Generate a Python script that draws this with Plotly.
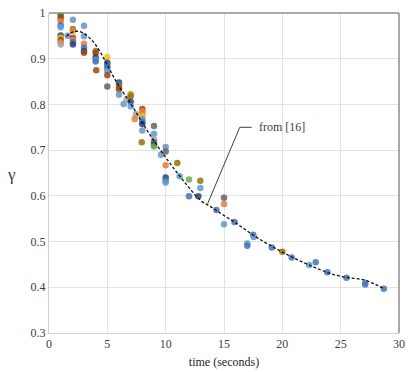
import plotly.graph_objects as go

# --- data -------------------------------------------------------------------
palette = {
    "B": "#4472C4", "O": "#ED7D31", "G": "#A5A5A5", "Y": "#FFC000",
    "L": "#5B9BD5", "N": "#264478", "R": "#9E480E", "D": "#636363",
    "V": "#997300", "GR": "#70AD47", "GD": "#43682B", "P": "#698ED0",
    "YV": "#BF9000",
}

pt_x = [1.0, 1.0, 1.0, 1.0, 1.0, 1.0, 1.0, 1.0, 1.0, 1.0, 1.0,
        1.6,
        2.05, 2.05, 2.05, 2.05, 2.05, 2.05, 2.05,
        3.0, 3.0, 3.0, 3.0, 3.0, 3.0,
        4.0, 4.0, 4.0, 4.0, 4.0, 4.05,
        5.0, 5.0, 5.0, 5.0, 5.0, 5.0, 5.0,
        6.0, 6.0, 6.0, 6.0, 6.0,
        6.4, 6.65,
        7.0, 7.0, 7.0, 7.0,
        7.45, 7.35,
        8.0, 8.0, 8.0, 8.0, 8.0, 8.0, 8.0, 8.0, 7.95,
        9.0, 9.0, 9.0, 9.0, 9.0, 9.0,
        9.6,
        10.0, 10.0, 10.0, 10.0, 10.0, 10.0,
        11.0, 11.2, 12.0, 12.97, 12.97, 12.0, 12.8,
        15.0, 15.0, 15.0,
        14.35, 15.9, 17.5, 17.55, 17.0, 17.0, 19.1, 20.0, 20.8,
        22.3, 22.86, 23.86, 25.5, 27.1, 27.1, 28.7]

pt_y = [1.0, 0.994, 0.988, 0.982, 0.973, 0.969, 0.951, 0.946, 0.941, 0.936, 0.931,
        0.950,
        0.985, 0.965, 0.961, 0.946, 0.941, 0.936, 0.931,
        0.972, 0.949, 0.933, 0.924, 0.917, 0.913,
        0.917, 0.913, 0.903, 0.897, 0.894, 0.875,
        0.904, 0.891, 0.885, 0.880, 0.873, 0.864, 0.839,
        0.848, 0.843, 0.838, 0.833, 0.821,
        0.801, 0.811,
        0.822, 0.818, 0.806, 0.796,
        0.779, 0.768,
        0.790, 0.785, 0.779, 0.774, 0.768, 0.762, 0.757, 0.743, 0.717,
        0.753, 0.736, 0.724, 0.717, 0.712, 0.708,
        0.690,
        0.707, 0.697, 0.667, 0.640, 0.633, 0.629,
        0.672, 0.643, 0.636, 0.633, 0.617, 0.599, 0.599,
        0.596, 0.582, 0.538,
        0.569, 0.543, 0.515, 0.510, 0.496, 0.491, 0.487, 0.478, 0.465,
        0.449, 0.455, 0.433, 0.421, 0.410, 0.406, 0.397]

pt_series = ["GR", "GD", "R", "O", "B", "L", "N", "Y", "R", "O", "G",
             "P",
             "P", "V", "O", "R", "O", "B", "N",
             "P", "L", "O", "B", "N", "R",
             "V", "R", "N", "L", "B", "R",
             "Y", "N", "B", "B", "L", "R", "D",
             "N", "B", "V", "R", "L",
             "L", "G",
             "YV", "V", "N", "L",
             "G", "O",
             "R", "O", "O", "Y", "L", "B", "N", "L", "V",
             "D", "L", "G", "D", "N", "GR",
             "L",
             "P", "D", "O", "N", "B", "L",
             "V", "L", "GR", "V", "L", "B", "N",
             "D", "O", "L",
             "B", "B", "B", "L", "L", "B", "B", "V", "B",
             "L", "B", "B", "B", "L", "B", "B"]

fit_x = [1.5, 2.0, 2.5, 3.0, 3.5, 4.0, 4.5, 5.0, 5.5, 6.0, 7.0, 8.0, 9.0, 10.0,
         11.0, 12.0, 13.0, 14.0, 15.0, 16.0, 17.0, 18.0, 19.0, 20.0, 21.0,
         22.0, 23.0, 24.0, 25.0, 26.0, 27.0, 28.0, 28.7]
fit_y = [0.949, 0.958, 0.960, 0.955, 0.945, 0.930, 0.910, 0.886, 0.862, 0.840,
         0.802, 0.760, 0.720, 0.684, 0.650, 0.618, 0.590, 0.574, 0.557, 0.541,
         0.523, 0.506, 0.491, 0.477, 0.464, 0.452, 0.441, 0.431, 0.424, 0.420,
         0.416, 0.406, 0.397]

x_ticks = [0, 5, 10, 15, 20, 25, 30]
y_ticks = [0.3, 0.4, 0.5, 0.6, 0.7, 0.8, 0.9, 1.0]
y_tick_text = ["0.3", "0.4", "0.5", "0.6", "0.7", "0.8", "0.9", "1"]

label_text = "from [16]"
label_tip = (13.6, 0.583)
label_elbow = (16.35, 0.75)
label_end = (17.37, 0.75)
# -----------------------------------------------------------------------------

FONT = "Liberation Serif, Times New Roman, serif"
fig = go.Figure()

fig.add_trace(go.Scatter(
    x=pt_x, y=pt_y, mode="markers",
    marker=dict(size=6.5, color=[palette[s] for s in pt_series], opacity=0.85,
                line=dict(width=0)),
    showlegend=False, hoverinfo="x+y"))

fig.add_trace(go.Scatter(
    x=fit_x, y=fit_y, mode="lines", line_shape="spline",
    line=dict(color="#111111", width=1.3, dash="3px,2px"),
    showlegend=False))

fig.add_shape(type="path",
              path=f"M {label_tip[0]},{label_tip[1]} L {label_elbow[0]},{label_elbow[1]} "
                   f"L {label_end[0]},{label_end[1]}",
              xref="x", yref="y", line=dict(color="#404040", width=1))
fig.add_annotation(x=label_end[0] + 0.45, y=label_end[1], xref="x", yref="y",
                   text=label_text, showarrow=False, xanchor="left", yanchor="middle",
                   font=dict(family=FONT, size=12, color="#404040"))

# darker top / right frame
fig.add_shape(type="line", xref="paper", yref="paper", x0=0, x1=1, y0=1, y1=1,
              line=dict(color="#8c8c8c", width=1.5))
fig.add_shape(type="line", xref="paper", yref="paper", x0=1, x1=1, y0=0, y1=1,
              line=dict(color="#8c8c8c", width=1.5))

fig.add_annotation(x=-0.106, y=0.495, xref="paper", yref="paper", text="γ",
                   showarrow=False, xanchor="center", yanchor="middle",
                   font=dict(family=FONT, size=17, color="#404040"))

fig.update_xaxes(range=[0, 30], tickvals=x_ticks, showgrid=True, gridcolor="#e3e3e3",
                 gridwidth=1, showline=True, linecolor="#d0d0d0", zeroline=False,
                 automargin=False, ticklabeloverflow="allow",
                 tickfont=dict(family=FONT, size=12, color="#404040"),
                 title=dict(text="time (seconds)", standoff=7,
                            font=dict(family=FONT, size=12, color="#262626")))
fig.update_yaxes(range=[0.3, 1.0], tickvals=y_ticks, ticktext=y_tick_text, showgrid=True,
                 gridcolor="#e3e3e3", gridwidth=1, showline=True, linecolor="#d0d0d0",
                 zeroline=False, automargin=False, ticklabeloverflow="allow",
                 tickfont=dict(family=FONT, size=12, color="#404040"))

# page body has an 8px default margin, so the figure is sized/offset to compensate
fig.update_layout(width=410, height=364, margin=dict(l=41, r=19, t=5, b=39),
                  paper_bgcolor="white", plot_bgcolor="white",
                  font=dict(family=FONT, color="#404040"))

fig.write_html("out.html")
